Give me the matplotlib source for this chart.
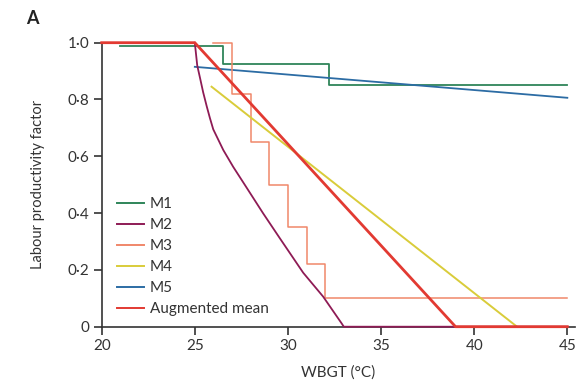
import matplotlib
matplotlib.use("Agg")
import matplotlib.pyplot as plt
from matplotlib.lines import Line2D

plt.rcParams['font.family'] = ['Lato', 'DejaVu Sans']

# M1: step function
m1_x = [21, 26.5, 26.5, 32.2, 32.2, 45]
m1_y = [0.99, 0.99, 0.925, 0.925, 0.852, 0.852]

# M2: curve
m2_x = [25, 25.13, 25.28, 25.45, 25.64, 25.81, 25.99, 26.53, 27.06, 27.69, 28.67,
        29.57, 30.82, 31.89, 32.88, 33, 45]
m2_y = [1.0, 0.92, 0.876, 0.825, 0.776, 0.735, 0.695, 0.622, 0.563, 0.499, 0.399,
        0.311, 0.19, 0.106, 0.012, 0.0, 0.0]

# M3: step function
m3_x = [26, 27, 27, 28, 28, 29, 29, 30, 30, 31, 31, 32, 32, 45]
m3_y = [1.0, 1.0, 0.82, 0.82, 0.65, 0.65, 0.5, 0.5, 0.35, 0.35, 0.22, 0.22, 0.1, 0.1]

# M4: line
m4_x = [25.9, 42.3]
m4_y = [0.845, 0.0]

# M5: line
m5_x = [25, 45]
m5_y = [0.915, 0.806]

# Augmented mean
am_x = [20, 25, 39, 45]
am_y = [1.0, 1.0, 0.0, 0.0]

labels = ['M1', 'M2', 'M3', 'M4', 'M5', 'Augmented mean']
colors = ['#2f8559', '#8e1b55', '#f0876a', '#d9cc3a', '#2c6ca4', '#e23a32']

xticks = [20, 25, 30, 35, 40, 45]
yticks = [0, 0.2, 0.4, 0.6, 0.8, 1.0]
ytick_labels = ['0', '0·2', '0·4', '0·6', '0·8', '1·0']

fig = plt.figure(figsize=(5.8, 3.86), dpi=100)
ax = fig.add_axes([0.1753, 0.1536, 0.816, 0.7358])

ax.plot(m1_x, m1_y, color=colors[0], lw=1.3, clip_on=False, zorder=3)
ax.plot(m5_x, m5_y, color=colors[4], lw=1.3, clip_on=False, zorder=3)
ax.plot(m3_x, m3_y, color=colors[2], lw=1.1, clip_on=False, zorder=3)
ax.plot(m4_x, m4_y, color=colors[3], lw=1.4, clip_on=False, zorder=3)
ax.plot(m2_x, m2_y, color=colors[1], lw=1.3, clip_on=False, zorder=4)
ax.plot(am_x, am_y, color=colors[5], lw=2.0, clip_on=False, zorder=5)

ax.set_xlim(20, 45.41)
ax.set_ylim(0, 1.0)
ax.set_xticks(xticks)
ax.set_yticks(yticks)
ax.set_yticklabels(ytick_labels)

for s in ['top', 'right']:
    ax.spines[s].set_visible(False)
for s in ['left', 'bottom']:
    ax.spines[s].set_color('#333333')
    ax.spines[s].set_linewidth(1.2)
ax.tick_params(axis='both', direction='out', length=5.5, width=1.2, color='#333333',
               labelsize=11, labelcolor='#333333', pad=3.5)

ax.set_xlabel('WBGT (°C)', fontsize=11, color='#333333', labelpad=9)
ax.set_ylabel('Labour productivity factor', fontsize=10.5, color='#333333', labelpad=16)

handles = [Line2D([0], [0], color=c, lw=1.4) for c in colors]
leg = ax.legend(handles, labels, loc='upper left', bbox_to_anchor=(0.02, 0.478),
                frameon=False, fontsize=11, handlelength=1.75, handletextpad=0.4,
                labelspacing=0.46, borderaxespad=0)
for t in leg.get_texts():
    t.set_color('#333333')

fig.text(0.045, 0.975, 'A', fontsize=13, fontweight='bold', color='#222222', va='top')

fig.savefig('out.png', dpi=100)
